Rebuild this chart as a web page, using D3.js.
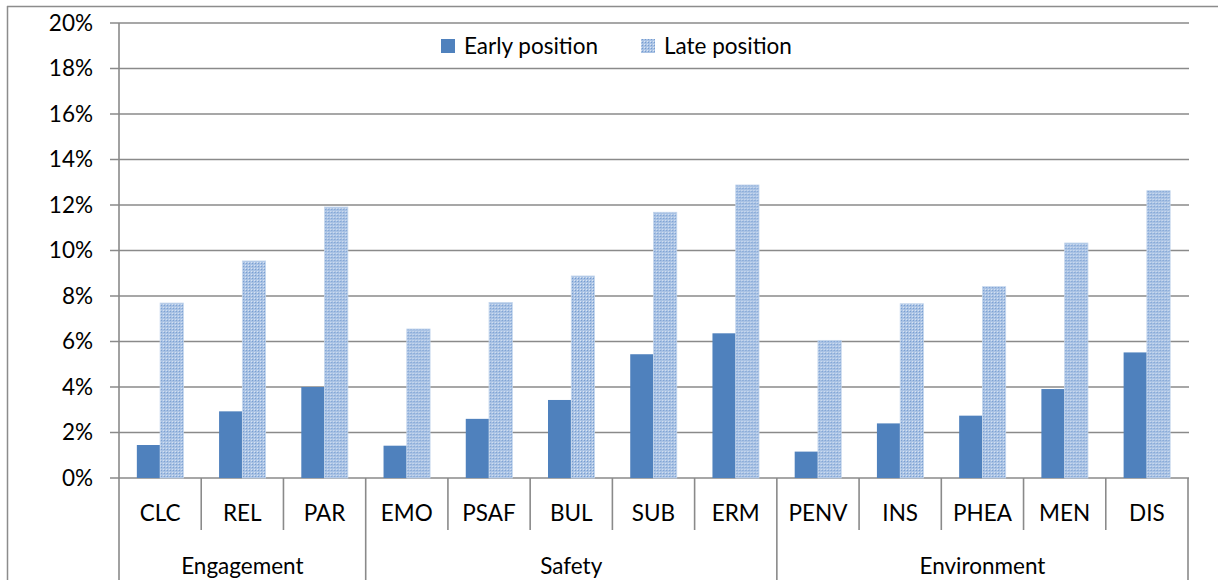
<!DOCTYPE html>
<html>
<head>
<meta charset="utf-8">
<script src="https://cdn.jsdelivr.net/npm/d3@7"></script>
<style>
  body { margin: 0; background: #fff; }
  text { font-family: Lato, "Open Sans", sans-serif; fill: #000; }
</style>
</head>
<body>
<div id="chart"></div>
<script>
// chart values
var categories = ["CLC", "REL", "PAR", "EMO", "PSAF", "BUL", "SUB", "ERM", "PENV", "INS", "PHEA", "MEN", "DIS"];
var groups = [
  { name: "Engagement", count: 3 },
  { name: "Safety", count: 5 },
  { name: "Environment", count: 5 }
];
var earlyValues = [1.45, 2.93, 4.0, 1.42, 2.6, 3.43, 5.44, 6.36, 1.16, 2.4, 2.74, 3.91, 5.52];
var lateValues = [7.69, 9.54, 11.91, 6.55, 7.71, 8.88, 11.68, 12.88, 6.05, 7.66, 8.41, 10.33, 12.63];
var yTicks = [0, 2, 4, 6, 8, 10, 12, 14, 16, 18, 20];
var seriesNames = ["Early position", "Late position"];

var svgWidth = 1218;
var svgHeight = 580;
var fontSize = "22.5px";

const margin = { top: 23, right: 30, bottom: 102, left: 119 };
var width = 1188 - margin.left;
var height = 478 - margin.top;

var svg = d3.select("#chart")
  .append("svg")
  .attr("width", svgWidth)
  .attr("height", svgHeight);

// patterned fill for the late series
var defs = svg.append("defs");
var pat = defs.append("pattern")
  .attr("id", "latePat")
  .attr("width", 3)
  .attr("height", 3)
  .attr("patternUnits", "userSpaceOnUse");
pat.append("rect").attr("width", 3).attr("height", 3).attr("fill", "#a9c2e4");
pat.append("rect").attr("width", 1).attr("height", 1).attr("fill", "#759cd0");
pat.append("rect").attr("x", 2).attr("y", 2).attr("width", 1).attr("height", 1).attr("fill", "#dbe6f4");

// outer frame lines
svg.append("line").attr("x1", 7).attr("x2", svgWidth).attr("y1", 6.5).attr("y2", 6.5)
  .attr("stroke", "#8c8c8c").attr("stroke-width", 1.5);
svg.append("line").attr("x1", 7.5).attr("x2", 7.5).attr("y1", 6).attr("y2", svgHeight)
  .attr("stroke", "#8c8c8c").attr("stroke-width", 1.5);

var chartGroup = svg.append("g")
  .attr("transform", `translate(${margin.left}, ${margin.top})`);

var xScale = d3.scaleBand()
  .domain(categories)
  .range([0, width])
  .paddingInner(0.434)
  .paddingOuter(0.217);

var xSub = d3.scaleBand()
  .domain(seriesNames)
  .range([0, xScale.bandwidth()]);

var yScale = d3.scaleLinear()
  .domain([0, 20])
  .range([height, 0]);

// gridlines
chartGroup.append("g")
  .selectAll("line")
  .data(yTicks)
  .enter()
  .append("line")
  .attr("x1", -9)
  .attr("x2", width + 1)
  .attr("y1", d => yScale(d))
  .attr("y2", d => yScale(d))
  .attr("stroke", "#8a8a8a")
  .attr("stroke-width", 1.6);

// y axis
var yAxis = d3.axisLeft(yScale)
  .tickValues(yTicks)
  .tickFormat(d => d + "%")
  .tickSize(0)
  .tickPadding(26);
var yG = chartGroup.append("g").call(yAxis);
yG.select(".domain").remove();
yG.selectAll("text").attr("font-size", fontSize).attr("fill", "#000");

// bars
var rowStep = xScale.step();
var catG = chartGroup.selectAll(".cat")
  .data(categories)
  .enter()
  .append("g")
  .attr("transform", d => `translate(${xScale(d)},0)`);

catG.append("rect")
  .attr("x", xSub("Early position"))
  .attr("y", (d, i) => yScale(earlyValues[i]))
  .attr("width", xSub.bandwidth())
  .attr("height", (d, i) => height - yScale(earlyValues[i]))
  .attr("fill", "#4f81bd");

catG.append("rect")
  .attr("x", xSub("Late position"))
  .attr("y", (d, i) => yScale(lateValues[i]))
  .attr("width", xSub.bandwidth())
  .attr("height", (d, i) => height - yScale(lateValues[i]))
  .attr("fill", "url(#latePat)")
  .attr("stroke", "#c3d5ec")
  .attr("stroke-width", 0.8);

// y axis line
chartGroup.append("line")
  .attr("x1", 0).attr("x2", 0)
  .attr("y1", 0).attr("y2", svgHeight - margin.top)
  .attr("stroke", "#8a8a8a").attr("stroke-width", 1.6);

// category label row
var divX = d3.range(categories.length + 1).map(i => i * rowStep);
var groupStarts = [0];
groups.forEach(function(g, i) { groupStarts.push(groupStarts[i] + g.count); });

chartGroup.append("g")
  .selectAll("line")
  .data(divX.slice(1))
  .enter()
  .append("line")
  .attr("x1", d => d).attr("x2", d => d)
  .attr("y1", height)
  .attr("y2", (d, i) => groupStarts.indexOf(i + 1) >= 0 ? svgHeight - margin.top : height + 52)
  .attr("stroke", "#8a8a8a")
  .attr("stroke-width", 1.6);

chartGroup.append("g")
  .selectAll("text")
  .data(categories)
  .enter()
  .append("text")
  .attr("x", d => xScale(d) + xScale.bandwidth() / 2)
  .attr("y", height + 43)
  .attr("text-anchor", "middle")
  .attr("font-size", fontSize)
  .text(d => d);

chartGroup.append("g")
  .selectAll("text")
  .data(groups)
  .enter()
  .append("text")
  .attr("x", (d, i) => (groupStarts[i] + d.count / 2) * rowStep)
  .attr("y", height + 96)
  .attr("text-anchor", "middle")
  .attr("font-size", fontSize)
  .text(d => d.name);

// legend
var legend = svg.append("g");
var legendX = [441, 641];
seriesNames.forEach(function(name, i) {
  legend.append("rect")
    .attr("x", legendX[i]).attr("y", 39)
    .attr("width", 14).attr("height", 14)
    .attr("fill", i === 0 ? "#4f81bd" : "url(#latePat)");
  legend.append("text")
    .attr("x", legendX[i] + 23).attr("y", 54)
    .attr("font-size", fontSize)
    .text(name);
});
</script>
</body>
</html>
